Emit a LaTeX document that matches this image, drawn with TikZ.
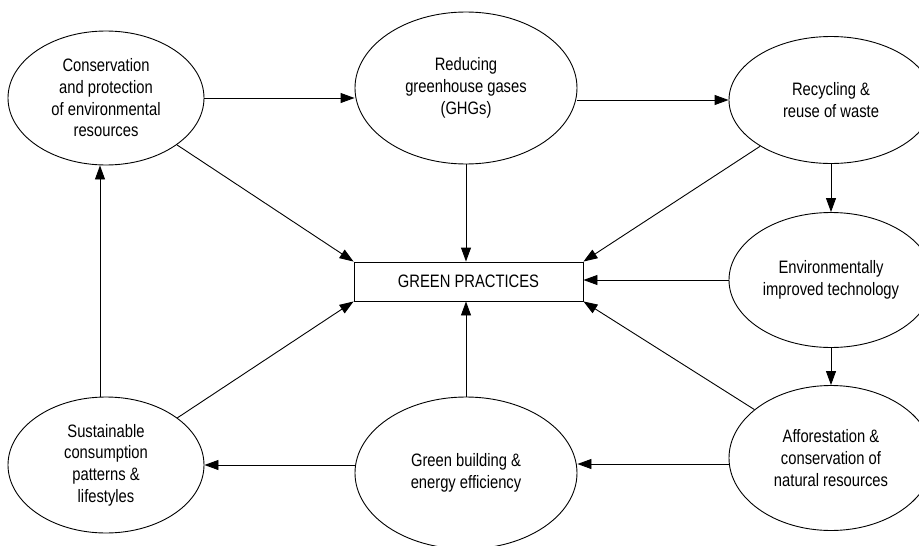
\documentclass[tikz,border=0pt]{standalone}
\usepackage{fontspec}
\setmainfont{Liberation Sans}[FakeStretch=0.82]
\usepackage{tikz}
\usetikzlibrary{shapes.geometric,arrows.meta}

\begin{document}
\begin{tikzpicture}[x=1pt,y=-1pt,
	line width=0.9pt,
	arr/.style={-{Triangle[length=14pt,width=10pt]}},
	oval/.style={draw,ellipse,inner sep=0pt,align=center,
		font=\fontsize{18}{21.7}\selectfont},
	box/.style={draw,rectangle,inner sep=0pt,minimum width=229pt,minimum height=39pt,
		font=\fontsize{18}{21.7}\selectfont}]
	%\draw[help lines] (0,0) grid[step=50] (919,546);
	\useasboundingbox (0,0) rectangle (919,546);
	\clip (0,0) rectangle (919,546);
	\node[box] (gp) at (468.5,281.5) {GREEN PRACTICES};
	\node[oval,minimum width=196pt,minimum height=134pt] (cons) at (106,98) {Conservation\\and protection\\of environmental\\resources};
	\node[oval,minimum width=222pt,minimum height=152pt] (ghg) at (466,88) {Reducing\\greenhouse gases\\(GHGs)};
	\node[oval,minimum width=204pt,minimum height=127pt] (recy) at (831,100) {Recycling \&\\reuse of waste};
	\node[oval,minimum width=204pt,minimum height=135pt] (tech) at (831,280) {Environmentally\\improved technology};
	\node[oval,minimum width=204pt,minimum height=145pt] (affo) at (831,458) {Afforestation \&\\conservation of\\natural resources};
	\node[oval,minimum width=222pt,minimum height=152pt] (bldg) at (466,473) {Green building \&\\energy efficiency};
	\node[oval,minimum width=196pt,minimum height=136pt] (life) at (106,465) {Sustainable\\consumption\\patterns \&\\lifestyles};
	% cycle round the outside
	\draw[arr] (cons.east) -- (cons.east -| ghg.west);
	\draw[arr] (recy.west -| ghg.east) -- (recy.west);
	\draw[arr] (recy) -- (tech);
	\draw[arr] (tech) -- (affo);
	\draw[arr] (affo.west |- 0,464) -- (bldg.east |- 0,464);
	\draw[arr] (bldg.west |- life.east) -- (life.east);
	\draw[arr] ([xshift=-6pt]life.north) -- ([xshift=-6pt]cons.south);
	% into the centre
	\draw[arr] (cons) -- (gp.north west);
	\draw[arr] (ghg.south) -- (ghg.south |- gp.north);
	\draw[arr] (recy) -- (gp.north east);
	\draw[arr] (tech.west) -- (tech.west -| gp.east);
	\draw[arr] (affo) -- (gp.south east);
	\draw[arr] (bldg.north) -- (bldg.north |- gp.south);
	\draw[arr] (life) -- (gp.south west);
\end{tikzpicture}
\end{document}
